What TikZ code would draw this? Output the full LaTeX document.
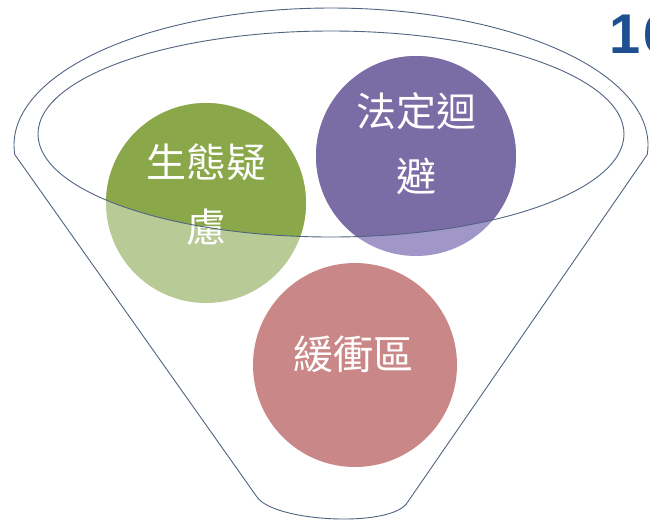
\documentclass[tikz,border=0pt]{standalone}
\usepackage{fontspec}
\newfontfamily\cjk{Noto Sans CJK TC}
\newfontfamily\numfont{Liberation Sans}
\definecolor{greenD}{HTML}{8AA84A}
\definecolor{greenL}{HTML}{B8CA96}
\definecolor{purpleD}{HTML}{7A6CA5}
\definecolor{purpleL}{HTML}{A096C8}
\definecolor{pinkC}{HTML}{CA8787}
\definecolor{rimc}{HTML}{506482}
\definecolor{numblue}{HTML}{1E5091}
\begin{document}
\begin{tikzpicture}[x=1pt,y=-1pt,
  rim/.style={draw=rimc, line width=0.9pt},
  lbl/.style={text=white, font=\cjk\fontsize{40}{65}\selectfont, align=center, inner sep=0pt}]
\useasboundingbox (0,0) rectangle (650,523);
\fill[white] (0,0) rectangle (650,523);
\clip (0,0) rectangle (650,523);
% circles (lighter part below the rim)
\fill[greenL] (206,203) circle[radius=100];
\fill[purpleL] (416,156) circle[radius=100];
\fill[pinkC] (355,365) circle[radius=102];
% darker part inside the opening
\begin{scope}
  \clip (331,134) ellipse[x radius=293, y radius=103];
  \fill[greenD] (206,203) circle[radius=100];
  \fill[purpleD] (416,156) circle[radius=100];
\end{scope}
% labels
\node[lbl] (eco) at (206,195) {生態疑\\慮};
\node[lbl] (law) at (416,144) {法定迴\\避};
\node[lbl] (buf) at (353,354) {緩衝區};
% funnel rim
\draw[rim] (331,134) ellipse[x radius=293, y radius=103];
% funnel outline
\draw[rim, line join=round] plot[domain=184:-4, samples=150] ({331+317*cos(\x)},{145-137*sin(\x)})
  -- (407,503) .. controls (390,528) and (274,522) .. (257,497) -- cycle;
% page number (cut off at the right edge, as in the reference)
\node[anchor=base west, inner sep=0pt, text=numblue, font=\numfont\bfseries\fontsize{56}{60}\selectfont] (num) at (609,53) {1\kern3pt 6};
\end{tikzpicture}
\end{document}
